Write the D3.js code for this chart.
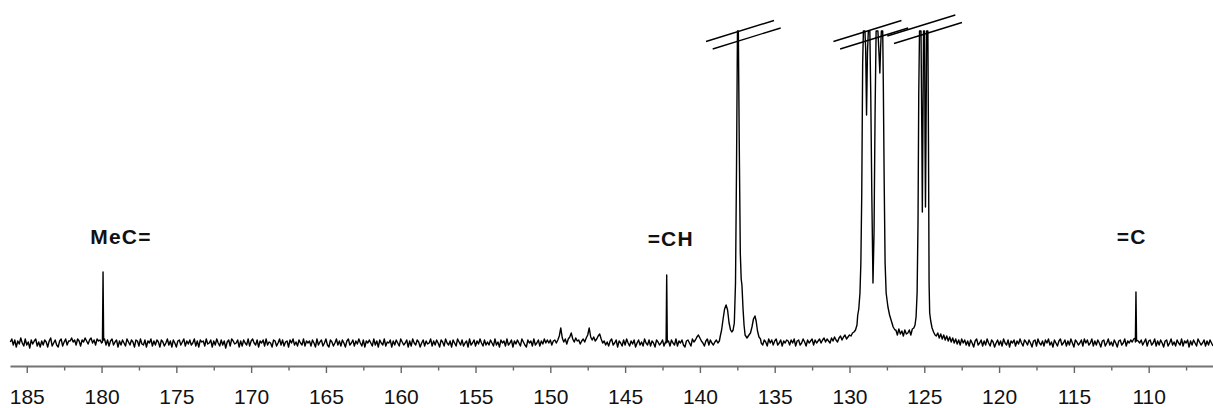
<!DOCTYPE html>
<html>
<head>
<meta charset="utf-8">
<script src="https://cdn.jsdelivr.net/npm/d3@7"></script>
<style>
  html, body { margin: 0; padding: 0; background: #fff; }
  svg { display: block; }
</style>
</head>
<body>
<svg id="chart" width="1213" height="408"></svg>
<script>
// 13C NMR spectrum, chemical shift in ppm (decreasing to the right)

// Spectrum trace sampled every 0.1 ppm from 186.1 ppm downwards (intensity, a.u.)
const traceStart = 186.1;
const traceStep = 0.1;
const trace = [
  1,4,-2,3,-4,2,-1,5,0,-3, 4,-2,1,-5,3,-1,2,4,-3,1, -4,2,-2,3,1,-4,2,5,-3,0, 3,-2,-4,2,4,-3,1,4,-2,2,
  2,5,1,3,-2,4,2,-3,3,1, 5,2,-1,3,5,0,3,-2,4,2, 3,0,3,4,-2,3,-3,2,4,-2, 1,3,-4,2,-2,3,0,-3,4,1,
  -2,3,1,-4,3,2,-3,4,-1,-2, 3,-4,2,0,4,-3,2,-2,3,1, -4,3,1,-3,0,4,-2,2,-4,3, 0,-4,2,3,-2,1,4,-3,2,-1,
  3,-2,0,4,-3,2,-4,3,1,2, -3,4,-1,0,3,-4,2,-2,4,0, -3,3,-2,2,-5,1,3,-3,4,2, -1,0,3,-4,2,-3,3,0,-2,4,
  -3,2,4,0,-2,3,-4,2,0,3, -3,4,-2,1,0,-4,3,2,-3,0, 4,-2,3,-3,1,2,-4,3,0,4, -2,1,-3,3,0,-2,4,-3,2,0,
  2,-3,3,0,-4,4,-2,1,3,-3, 0,4,-2,-4,3,1,-3,0,4,-2, 2,-3,3,0,-4,2,4,-2,0,3, -3,2,-1,4,0,-3,3,-4,2,0,
  3,0,-3,4,-2,2,-4,3,0,-2, 4,-3,1,0,3,-4,2,-2,3,0, -3,4,1,-2,0,3,-4,2,-3,4, 0,-2,3,1,-4,0,3,-3,2,-1,
  0,4,-3,2,-2,3,0,-4,3,1, -3,4,0,-2,2,-4,3,0,-3,4, 1,-2,3,-3,0,2,-4,4,-2,0, 3,-3,2,-1,4,0,-3,3,-2,1,
  -2,3,0,-3,4,-2,1,-4,3,0, 2,-3,4,-2,0,3,-4,2,-1,3, 0,-3,4,1,-2,-4,3,0,2,-3, 4,-2,0,3,-3,2,-1,4,0,3,
  0,3,-2,2,3,0,3,7,15,5, 1,4,-1,4,6,10,4,1,5,2, 3,-1,2,4,1,5,8,15,6,3, 6,2,4,7,9,4,0,2,-2,1,
  -3,2,4,-2,0,3,-4,2,0,-3, 3,-2,4,0,-3,2,-1,3,-4,0, 3,-2,1,-3,4,0,-2,3,-3,2, 0,-4,3,1,-2,0,3,-3,1,0,
  2,-3,3,0,-2,4,-3,2,0,3, -2,-4,2,3,0,-3,4,1,3,6, 8,5,2,0,-3,2,4,-2,3,0, -2,1,3,0,2,13,24,34,38,33,
  20,13,12,20,60,312,200,64,35,8, 5,8,10,16,24,27,22,12,6,4, 2,3,0,-2,3,1,-3,4,0,3, -2,2,4,-2,0,3,-3,2,0,3,
  2,-2,3,0,4,-3,2,3,-2,0, 4,1,-3,3,0,2,4,-2,3,0, 2,4,0,3,5,1,4,2,0,5, 2,6,3,1,5,7,3,6,8,4,
  6,8,7,10,11,13,18,34,50,130, 312,312,260,290,312,280,140,80,220,312, 312,280,305,312,200,70,42,34,27,22, 17,14,13,8,14,9,12,7,13,9,
  10,13,8,14,15,20,35,160,312,312, 180,312,160,312,120,25,17,12,9,7, 10,5,9,4,8,3,7,2,6,1, 5,0,4,-1,3,-2,4,0,3,-2,
  2,-3,3,0,-4,2,4,-2,0,3, -3,2,-2,4,0,-3,3,1,-4,0, 3,-2,2,-3,4,0,-2,3,-4,2, 0,3,-3,2,-1,4,0,-3,3,1,
  -2,3,0,-4,2,3,-3,4,0,-2, 2,-3,3,0,4,-2,1,-4,3,0, -3,2,4,-2,0,3,-3,2,-2,4, 0,-4,3,1,-2,0,3,-3,4,0,
  3,-2,0,4,-3,2,-2,3,0,-4, 2,3,-3,0,4,-2,1,-3,3,0, -4,2,3,-2,0,4,-3,2,0,3, 1,4,5,3,2,0,3,-2,1,4,
  -3,2,3,-2,0,4,-3,2,-2,3, 0,-4,2,3,-3,0,4,-2,1,-3, 3,0,-2,4,-3,2,0,3,-4,2, -2,3,0,-3,4,1,-2,0,3,-3,
  2,-2,3,0,-3
];

// Finer samples across the narrow lines, [ppm, intensity]; clipped lines stop at 312
const lineMeC = [[179.94, 1], [179.90, 71], [179.86, 3]];
const lineCH = [[142.26, 0], [142.22, 68], [142.18, 1]];
const lineC = [[110.89, 1], [110.85, 51], [110.81, 2]];
const line137 = [
  [138.65, 6], [138.55, 13], [138.45, 24], [138.35, 34], [138.25, 38], [138.15, 33],
  [138.05, 20], [137.95, 13], [137.87, 11], [137.78, 13], [137.70, 20], [137.62, 60],
  [137.55, 180], [137.49, 312], [137.43, 312], [137.37, 200], [137.30, 90], [137.24, 64],
  [137.19, 58], [137.12, 35], [137.05, 18], [136.98, 8], [136.85, 5], [136.72, 8],
  [136.62, 10], [136.52, 16], [136.42, 24], [136.32, 27], [136.24, 22], [136.15, 12],
  [136.05, 6], [135.95, 4]
];
const line129 = [
  [129.45, 28], [129.38, 34], [129.30, 50], [129.24, 80], [129.18, 150], [129.12, 280],
  [129.07, 312], [128.97, 312], [128.92, 295], [128.86, 228], [128.80, 290], [128.74, 312],
  [128.64, 312], [128.58, 250], [128.51, 150], [128.43, 60], [128.36, 110], [128.29, 230],
  [128.22, 312], [128.10, 312], [128.03, 290], [127.97, 270], [127.92, 295], [127.87, 312],
  [127.78, 312], [127.74, 260], [127.68, 160], [127.62, 80], [127.55, 50], [127.43, 36],
  [127.32, 28], [127.20, 22], [127.08, 16], [126.96, 13]
];
const line125 = [
  [125.62, 18], [125.55, 26], [125.48, 50], [125.42, 120], [125.37, 250], [125.32, 312],
  [125.22, 312], [125.16, 200], [125.13, 131], [125.10, 200], [125.05, 312], [124.98, 312],
  [124.95, 200], [124.92, 136], [124.89, 200], [124.84, 312], [124.76, 312], [124.72, 200],
  [124.68, 60], [124.64, 30], [124.57, 22], [124.48, 15], [124.38, 11], [124.28, 8]
];

// Axis ticks (ppm)
const majorTicks = [185, 180, 175, 170, 165, 160, 155, 150, 145, 140, 135, 130, 125, 120, 115, 110];
const minorTicks = [182.5, 177.5, 172.5, 167.5, 162.5, 157.5, 152.5, 147.5, 142.5, 137.5, 132.5, 127.5, 122.5, 117.5, 112.5, 107.5];

// Peak assignments: label, ppm of label centre, height of label baseline
const labelText = ["MeC=", "=CH", "=C"];
const labelShift = [178.70, 141.95, 111.14];
const labelLevel = [99, 97, 99];

// Axis-break markers over clipped lines: ppm and level of the upper stroke centre
const breakShift = [137.32, 128.80, 125.20];
const breakLevel = [312, 312, 317.5];

// ---- drawing ----
const svg = d3.select("#chart");
const W = 1213, H = 408;

const x = d3.scaleLinear().domain([186.12, 105.70]).range([10, W]);
const y = d3.scaleLinear().domain([0, 312]).range([343, 31]);

// merge coarse trace with the fine samples
let points = trace.map((v, i) => ({ ppm: +(traceStart - i * traceStep).toFixed(2), v }));
[lineMeC, lineCH, lineC, line137, line129, line125].forEach(seg => {
  const hi = d3.max(seg, d => d[0]), lo = d3.min(seg, d => d[0]);
  points = points.filter(p => p.ppm < lo || p.ppm > hi);
  seg.forEach(d => points.push({ ppm: d[0], v: d[1] }));
});
points.sort((a, b) => b.ppm - a.ppm);

const line = d3.line().x(d => x(d.ppm)).y(d => y(d.v));

svg.append("path")
  .datum(points)
  .attr("d", line)
  .attr("fill", "none")
  .attr("stroke", "#000")
  .attr("stroke-width", 1.4)
  .attr("stroke-linejoin", "round");

// break markers: two short parallel slanted strokes
const halfDx = 34, slope = -0.31, offX = 6.7, offY = 7.5;
breakShift.forEach((s, i) => {
  const cx = x(s), cy = y(breakLevel[i]);
  [[0, 0], [offX, offY]].forEach(o => {
    svg.append("line")
      .attr("x1", cx - halfDx + o[0]).attr("y1", cy - slope * halfDx + o[1])
      .attr("x2", cx + halfDx + o[0]).attr("y2", cy + slope * halfDx + o[1])
      .attr("stroke", "#000")
      .attr("stroke-width", 1.4);
  });
});

// labels
labelText.forEach((t, i) => {
  svg.append("text")
    .attr("x", x(labelShift[i]))
    .attr("y", y(labelLevel[i]))
    .attr("text-anchor", "middle")
    .attr("font-family", "'Liberation Sans', Arial, sans-serif")
    .attr("font-weight", "bold")
    .attr("font-size", 21)
    .attr("letter-spacing", 1.2)
    .attr("fill", "#111")
    .text(t);
});

// x axis
const axisY = 366;
const gMinor = svg.append("g").attr("transform", `translate(0,${axisY})`)
  .call(d3.axisBottom(x).tickValues(minorTicks).tickSize(4.5).tickSizeOuter(0).tickFormat(""));
gMinor.select(".domain").remove();
gMinor.selectAll("line").attr("stroke", "#666").attr("stroke-width", 1.4);

const gMajor = svg.append("g").attr("transform", `translate(0,${axisY})`)
  .call(d3.axisBottom(x).tickValues(majorTicks).tickSize(7).tickSizeOuter(0).tickPadding(16).tickFormat(d3.format("d")));
gMajor.select(".domain").attr("stroke", "#737373").attr("stroke-width", 2);
gMajor.selectAll(".tick line").attr("stroke", "#666").attr("stroke-width", 1.4);
gMajor.selectAll(".tick text")
  .attr("font-family", "'Liberation Sans', Arial, sans-serif")
  .attr("font-size", 21)
  .attr("fill", "#111");
</script>
</body>
</html>
